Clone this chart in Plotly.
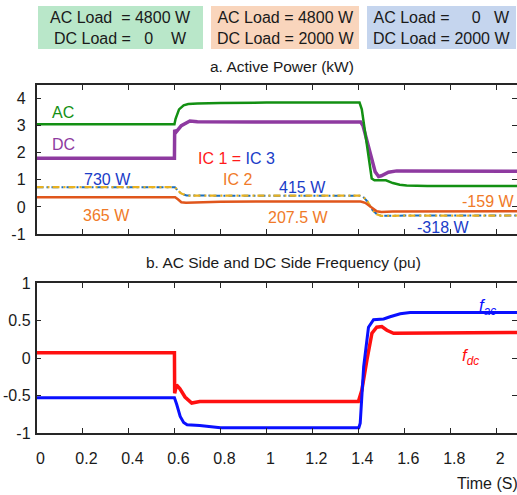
import plotly.graph_objects as go

W, H = 517, 495

# ---------------- data ----------------
# a. Active Power (kW)
t_ac = [0, 0.6, 0.605, 0.62, 0.64, 0.66, 0.7, 0.8, 1.0, 1.405, 1.415, 1.44, 1.458, 1.47, 1.49, 1.52, 1.55, 1.58, 1.61, 1.7, 2.09]
p_ac = [3.05, 3.05, 3.25, 3.6, 3.75, 3.8, 3.82, 3.84, 3.85, 3.85, 3.6, 2.0, 1.05, 0.98, 0.97, 0.98, 0.88, 0.82, 0.79, 0.77, 0.77]

t_dc = [0, 0.6, 0.601, 0.606, 0.63, 0.667, 0.7, 1.41, 1.42, 1.45, 1.473, 1.488, 1.5, 1.531, 1.567, 2.09]
p_dc = [1.8, 1.8, 2.85, 2.75, 3.0, 3.17, 3.14, 3.13, 3.0, 2.0, 1.3, 1.12, 1.15, 1.28, 1.33, 1.32]

t_ic13 = [0, 0.602, 0.615, 0.63, 0.653, 0.7, 0.8, 1.405, 1.42, 1.44, 1.46, 1.48, 1.5, 1.53, 1.6, 2.09]
p_ic13 = [0.73, 0.73, 0.6, 0.49, 0.42, 0.41, 0.415, 0.415, 0.38, 0.2, -0.1, -0.27, -0.33, -0.33, -0.32, -0.318]

t_ic2 = [0, 0.603, 0.615, 0.63, 0.65, 0.7, 0.8, 1.0, 1.41, 1.43, 1.46, 1.48, 1.5, 1.55, 2.09]
p_ic2 = [0.355, 0.355, 0.28, 0.17, 0.15, 0.17, 0.19, 0.2, 0.2, 0.15, -0.05, -0.16, -0.19, -0.17, -0.16]

# b. AC side and DC side frequency (pu)
t_fac = [0, 0.6, 0.61, 0.625, 0.64, 0.655, 0.71, 0.8, 1.402, 1.408, 1.423, 1.444, 1.466, 1.488, 1.51, 1.538, 1.582, 1.625, 2.09]
f_ac = [-0.53, -0.53, -0.62, -0.78, -0.86, -0.89, -0.9, -0.93, -0.93, -0.87, -0.12, 0.41, 0.51, 0.51, 0.52, 0.55, 0.59, 0.605, 0.605]

t_fdc = [0, 0.6, 0.601, 0.609, 0.624, 0.646, 0.675, 0.71, 1.40, 1.415, 1.437, 1.459, 1.48, 1.502, 1.524, 1.553, 2.09]
f_dc = [0.07, 0.07, -0.47, -0.36, -0.41, -0.52, -0.6, -0.58, -0.58, -0.43, -0.03, 0.33, 0.41, 0.42, 0.37, 0.33, 0.34]

x_ticks = [0, 0.2, 0.4, 0.6, 0.8, 1.0, 1.2, 1.4, 1.6, 1.8, 2.0]
x_labels = ["0", "0.2", "0.4", "0.6", "0.8", "1", "1.2", "1.4", "1.6", "1.8", "2"]
ya_ticks = [-1, 0, 1, 2, 3, 4]
ya_labels = ["-1", "0", "1", "2", "3", "4"]
yb_ticks = [-1, -0.5, 0, 0.5, 1]
yb_labels = ["-1", "-0.5", "0", "0.5", "1"]

box_texts = [
    "AC Load\u00a0\u00a0= 4800 W<br>DC Load =\u00a0\u00a0 0\u00a0\u00a0\u00a0 W",
    "AC Load = 4800 W<br>DC Load = 2000 W",
    "AC Load =\u00a0\u00a0\u00a0\u00a0 0\u00a0\u00a0 W<br>DC Load = 2000 W",
]
box_colors = ["#b9e7c9", "#f9d5bc", "#c5d5ee"]

# ---------------- styling helpers ----------------
FONT = "Liberation Sans, Arial, sans-serif"
AX = "#262626"
GREEN, PURPLE = "#139013", "#8e3aa0"
ORANGE, GOLD, BLUE_IC = "#e0561c", "#e8b120", "#1a6fc0"
RED, BLUE = "#ff1010", "#0a10ff"
TXT = 16


def px(x):
    return x / W


def py(y):
    return 1 - y / H


fig = go.Figure()

# panel a
fig.add_trace(go.Scatter(x=t_ic13, y=p_ic13, mode="lines", xaxis="x", yaxis="y",
                         line=dict(color=BLUE_IC, width=2, dash="7px,3px,2px,3px")))
fig.add_trace(go.Scatter(x=t_ic13, y=p_ic13, mode="lines", xaxis="x", yaxis="y",
                         line=dict(color=GOLD, width=2.2, dash="7px,4px,2px,3px")))
fig.add_trace(go.Scatter(x=t_ic2, y=p_ic2, mode="lines", xaxis="x", yaxis="y",
                         line=dict(color=ORANGE, width=2.5)))
fig.add_trace(go.Scatter(x=t_dc, y=p_dc, mode="lines", xaxis="x", yaxis="y",
                         line=dict(color=PURPLE, width=3.5)))
fig.add_trace(go.Scatter(x=t_ac, y=p_ac, mode="lines", xaxis="x", yaxis="y",
                         line=dict(color=GREEN, width=2.5)))

# panel b
fig.add_trace(go.Scatter(x=t_fdc, y=f_dc, mode="lines", xaxis="x2", yaxis="y2",
                         line=dict(color=RED, width=3.5)))
fig.add_trace(go.Scatter(x=t_fac, y=f_ac, mode="lines", xaxis="x2", yaxis="y2",
                         line=dict(color=BLUE, width=3)))

axis_common = dict(showline=True, linecolor=AX, linewidth=1.5, mirror="ticks",
                   ticks="inside", ticklen=5, tickwidth=1.3, tickcolor=AX,
                   showgrid=False, zeroline=False,
                   tickfont=dict(family=FONT, size=TXT, color="#1a1a1a"))

xdom = [px(36.5), 1.0]
fig.update_layout(
    width=W, height=H,
    margin=dict(l=0, r=0, t=0, b=0, autoexpand=False),
    paper_bgcolor="white", plot_bgcolor="white",
    showlegend=False,
    xaxis=dict(domain=xdom, range=[0, 2.09], anchor="y", tickvals=x_ticks,
               ticktext=x_labels, showticklabels=False, **axis_common),
    yaxis=dict(domain=[py(234), py(85)], range=[-1, 4.5], anchor="x",
               tickvals=ya_ticks, ticktext=ya_labels, ticklabelstandoff=6, **axis_common),
    xaxis2=dict(domain=xdom, range=[0, 2.09], anchor="y2", tickvals=x_ticks,
                ticktext=x_labels, ticklabelstandoff=10, ticklabelshift=4, **axis_common),
    yaxis2=dict(domain=[py(433), py(283)], range=[-1, 1], anchor="x2",
                tickvals=yb_ticks, ticktext=yb_labels, ticklabelstandoff=1, **axis_common),
)

# load boxes
box_x = [(38, 203), (211, 359), (367, 516)]
shapes = []
annotations = []
for (x0, x1), col, txt in zip(box_x, box_colors, box_texts):
    shapes.append(dict(type="rect", xref="paper", yref="paper",
                       x0=px(x0), x1=px(x1), y0=py(49), y1=py(6),
                       fillcolor=col, line=dict(width=0), layer="below"))
    annotations.append(dict(xref="paper", yref="paper", x=px((x0 + x1) / 2), y=py(27.5),
                            text=txt, showarrow=False, xanchor="center", yanchor="middle",
                            font=dict(family=FONT, size=TXT, color="#1a1a1a")))


def label(text, x, y, color, size=TXT):
    annotations.append(dict(xref="paper", yref="paper", x=px(x), y=py(y), text=text,
                            showarrow=False, xanchor="center", yanchor="middle",
                            font=dict(family=FONT, size=size, color=color)))


label("a. Active Power (kW)", 282, 67, "#1a1a1a", 15.5)
label("b. AC Side and DC Side Frequency (pu)", 283, 262, "#1a1a1a", 15.5)
label("Time (S)", 487, 483, "#1a1a1a", 16)

label("AC", 63, 112, GREEN)
label("DC", 63, 144, PURPLE)
label("<span style='color:#ff1a1a'>IC 1 =</span> <span style='color:#1a3cc8'>IC 3</span>", 236, 158, "#ff1a1a")
label("IC 2", 237, 179, "#f07a28")
label("730 W", 107, 179, "#1a3cc8")
label("365 W", 106, 215, "#f07a28")
label("415 W", 302, 187, "#1a3cc8")
label("207.5 W", 298, 218, "#f07a28")
label("-159 W", 488, 202, "#f07a28")
label("-318 W", 443, 227, "#1a3cc8")

label("<i>f</i><sub><i>ac</i></sub>", 487, 307, BLUE, 17)
label("<i>f</i><sub><i>dc</i></sub>", 470, 357, RED, 17)

fig.update_layout(shapes=shapes, annotations=annotations)

fig.write_html("out.html", config={"displayModeBar": False},
               post_script="document.body.style.margin='0';document.body.style.overflow='hidden';")
